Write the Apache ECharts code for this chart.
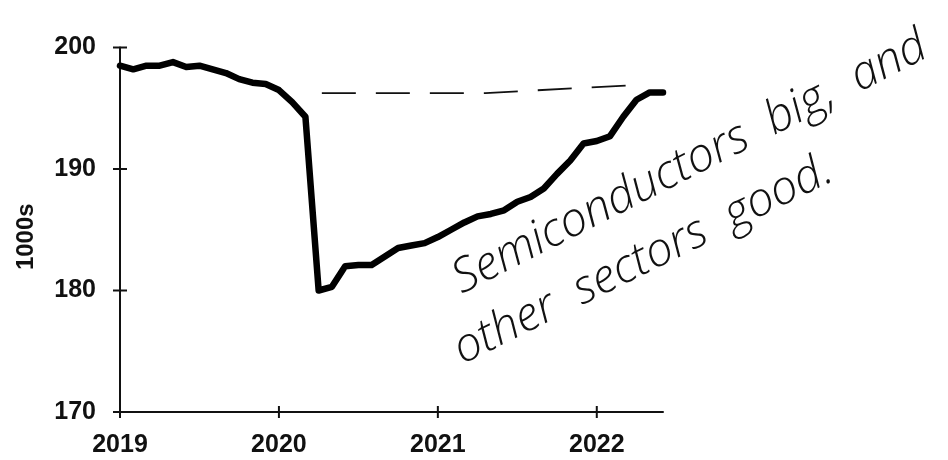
<!DOCTYPE html>
<html>
<head>
<meta charset="utf-8">
<script src="https://cdn.jsdelivr.net/npm/echarts@6/dist/echarts.min.js"></script>
<style>
html,body{margin:0;padding:0;background:#fff;}
#chart{width:948px;height:460px;}
</style>
</head>
<body>
<div id="chart"></div>
<script>
// Monthly data, Jan 2019 .. Jun 2022 (thousands)
const months = [
  '2019-01','2019-02','2019-03','2019-04','2019-05','2019-06','2019-07','2019-08','2019-09','2019-10','2019-11','2019-12',
  '2020-01','2020-02','2020-03','2020-04','2020-05','2020-06','2020-07','2020-08','2020-09','2020-10','2020-11','2020-12',
  '2021-01','2021-02','2021-03','2021-04','2021-05','2021-06','2021-07','2021-08','2021-09','2021-10','2021-11','2021-12',
  '2022-01','2022-02','2022-03','2022-04','2022-05','2022-06'
];
const jobs = [
  198.5,198.2,198.5,198.5,198.8,198.4,198.5,198.2,197.9,197.4,197.1,197.0,
  196.5,195.5,194.3,180.0,180.3,182.0,182.1,182.1,182.8,183.5,183.7,183.9,
  184.4,185.0,185.6,186.1,186.3,186.6,187.3,187.7,188.4,189.6,190.7,192.1,
  192.3,192.7,194.3,195.7,196.3,196.3
];
// Hand-drawn dashed reference line (pre-pandemic level)
const refX = [2020.27, 2021.3, 2022.23];
const refY = [196.25, 196.25, 196.9];

const yearTicks = [2019, 2020, 2021, 2022];
const yTicks = [170, 180, 190, 200];
const yMin = 170, yMax = 200, yStep = 10;
const yName = '1000s';
const note1 = 'Semiconductors  big,  and';
const note2 = 'other  sectors  good.';

function toX(m) {
  const p = m.split('-');
  return +p[0] + (+p[1] - 1) / 12;
}
const lineData = months.map((m, i) => [toX(m), jobs[i]]);
const refData = refX.map((x, i) => [x, refY[i]]);
const xMin = toX(months[0]);
const xMax = toX(months[months.length - 1]);

const labelFont = {color: '#111', fontFamily: 'Liberation Sans, Arial, sans-serif', fontWeight: 'bold', fontSize: 25};
const axisLine = {show: true, lineStyle: {color: '#111', width: 2}};
const handFont = 'italic 300 47px "Open Sans", "DejaVu Sans", sans-serif';

// crossing tick marks, placed through the axes' own scales
function tickRenderer(vertical, half) {
  return function (params, api) {
    const p = api.coord([api.value(0), api.value(1)]);
    const shape = vertical
      ? {x1: p[0], y1: p[1] - half, x2: p[0], y2: p[1] + half}
      : {x1: p[0] - half, y1: p[1], x2: p[0] + half, y2: p[1]};
    return {type: 'line', shape: shape, style: {stroke: '#111', lineWidth: 2}};
  };
}

const chart = echarts.init(document.getElementById('chart'), null, {renderer: 'canvas'});
chart.setOption({
  animation: false,
  backgroundColor: '#fff',
  grid: {left: 120, right: 285, top: 47.5, bottom: 48},
  xAxis: {
    type: 'value', min: xMin, max: xMax,
    axisLine: axisLine,
    axisTick: {show: false},
    axisLabel: Object.assign({margin: 21, customValues: yearTicks, formatter: v => String(Math.round(v))}, labelFont),
    splitLine: {show: false}
  },
  yAxis: {
    type: 'value', min: yMin, max: yMax, interval: yStep,
    name: yName, nameLocation: 'middle', nameGap: 82,
    nameTextStyle: Object.assign({}, labelFont, {fontSize: 24, padding: [0, 0, 0, -14]}),
    axisLine: axisLine,
    axisTick: {show: false},
    axisLabel: Object.assign({margin: 24}, labelFont),
    splitLine: {show: false}
  },
  series: [
    {
      type: 'line', data: lineData,
      showSymbol: false, symbol: 'none',
      lineStyle: {color: '#000', width: 6.5, cap: 'round', join: 'round'},
      z: 3
    },
    {
      type: 'line', data: refData,
      showSymbol: false, symbol: 'none',
      lineStyle: {color: '#111', width: 1.8, type: [34, 20]},
      z: 2
    },
    {
      type: 'custom', silent: true, clip: false, z: 4,
      data: yearTicks.map(y => [y, yMin]),
      renderItem: tickRenderer(true, 6)
    },
    {
      type: 'custom', silent: true, clip: false, z: 4,
      data: yTicks.map(v => [xMin, v]),
      renderItem: tickRenderer(false, 7)
    }
  ],
  graphic: [
    {
      type: 'text', x: 690, y: 163, rotation: 0.47,
      style: {text: note1, align: 'center', verticalAlign: 'middle', fill: '#111', font: handFont}
    },
    {
      type: 'text', x: 643, y: 260, rotation: 0.46,
      style: {text: note2, align: 'center', verticalAlign: 'middle', fill: '#111', font: handFont}
    }
  ]
});
</script>
</body>
</html>
